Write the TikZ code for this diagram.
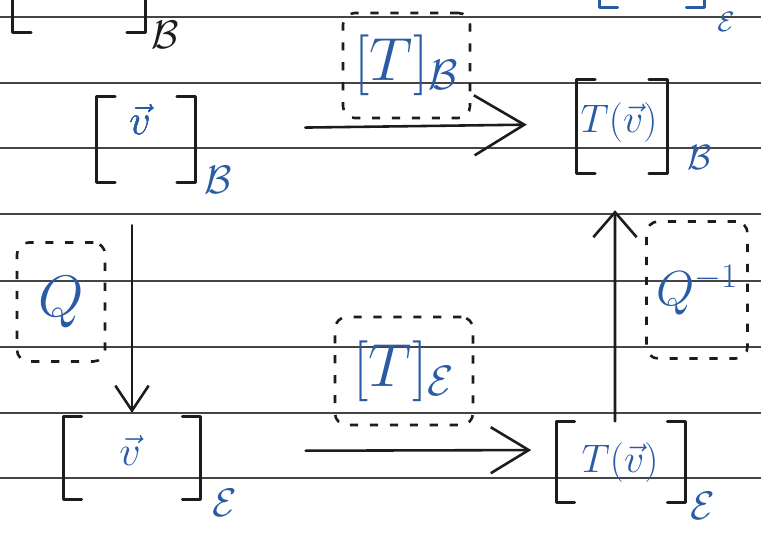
\RequirePackage{fix-cm}
\documentclass[tikz,border=0pt]{standalone}
\usetikzlibrary{arrows.meta,calc}
\definecolor{nbink}{HTML}{1C1C1C}
\definecolor{nbblue}{HTML}{2A5CA6}
\definecolor{nbrule}{HTML}{454545}
\tikzset{
  rule/.style={draw=nbrule, line width=1.4pt},
  matbox/.style n args={2}{minimum width=#1, minimum height=#2, inner sep=0pt},
  brk/.style={draw=nbink, line width=2.4pt, line join=round, line cap=round},
  ink/.style={text=nbblue, inner sep=0pt},
  sub/.style={inner sep=0pt, font=\fontsize{34}{40}\selectfont},
  lbox/.style n args={2}{draw=nbink, line width=2.2pt, dash pattern=on 7pt off 10pt,
    rounded corners=10pt, minimum width=#1, minimum height=#2, inner sep=0pt, text=nbblue},
  arr/.style={draw=nbink, line width=2.2pt, line cap=round},
}
% brackets drawn on the sides of a box node
\newcommand\bracketbox[2][nbink]{%
  \draw[brk, draw=#1] ([xshift=0.55cm]#2.north west) -- (#2.north west) -- (#2.south west) -- ([xshift=0.55cm]#2.south west);
  \draw[brk, draw=#1] ([xshift=-0.55cm]#2.north east) -- (#2.north east) -- (#2.south east) -- ([xshift=-0.55cm]#2.south east);}
\begin{document}
\begin{tikzpicture}[x=0.03cm, y=-0.03cm]
  \useasboundingbox (0,0) rectangle (761,540);
  \clip (0,0) rectangle (761,540);
  \fill[white] (0,0) rectangle (761,540);
  % ruled paper
  \foreach \y in {17,83,148,214,281,347,413,478}
    \draw[rule] (0,\y) -- (761,\y);

  % fragments cut by the top edge
  \node[matbox={3.96cm}{2.76cm}] (frTL) at (79,-14) {};
  \bracketbox{frTL}
  \node[sub, text=nbink] (frTLsub) at (165,35) {$\mathcal{B}$};
  \node[matbox={3.15cm}{2.61cm}] (frTR) at (652,-36) {};
  \bracketbox[nbblue]{frTR}
  \node[sub, text=nbblue, font=\fontsize{24}{28}\selectfont] (frTRsub) at (726,22) {$\mathcal{E}$};

  % coordinate vectors
  \node[matbox={2.94cm}{2.55cm}] (vB) at (146,139.5) {};
  \node[matbox={2.7cm}{2.79cm}] (TvB) at (622,126.5) {};
  \node[matbox={4.11cm}{2.49cm}] (vE) at (132,458) {};
  \node[matbox={3.87cm}{2.43cm}] (TvE) at (621,462) {};
  \foreach \nm in {vB,TvB,vE,TvE}
    \bracketbox{\nm}
  \node[ink, font=\fontsize{36}{40}\selectfont] (vBtxt) at (140,119) {$\vec{v}$};
  \node[ink, font=\fontsize{34}{40}\selectfont] (TvBtxt) at (619,123) {$T(\vec{v})$};
  \node[ink, font=\fontsize{36}{40}\selectfont] (vEtxt) at (130,450) {$\vec{v}$};
  \node[ink, font=\fontsize{34}{40}\selectfont] (TvEtxt) at (620,463) {$T(\vec{v})$};
  \node[sub, text=nbblue] (vBsub) at (218,180) {$\mathcal{B}$};
  \node[sub, text=nbblue, font=\fontsize{30}{36}\selectfont] (TvBsub) at (700,157) {$\mathcal{B}$};
  \node[sub, text=nbblue] (vEsub) at (225,503) {$\mathcal{E}$};
  \node[sub, text=nbblue] (TvEsub) at (703,506) {$\mathcal{E}$};

  % dashed labels
  \node[lbox={3.81cm}{3.15cm}, font=\fontsize{52}{60}\selectfont] (TB) at (406.5,65.5) {$[T]_{\mathcal{B}}$};
  \node[lbox={4.14cm}{3.24cm}, font=\fontsize{52}{60}\selectfont] (TE) at (404,371) {$[T]_{\mathcal{E}}$};
  \node[lbox={2.64cm}{3.57cm}, font=\fontsize{50}{60}\selectfont] (Q) at (61,302) {$Q$};
  \node[lbox={3.03cm}{4.11cm}, font=\fontsize{42}{50}\selectfont] (Qinv) at (697,290) {$Q^{-1}$};

  % arrows
  \draw[arr, -{Straight Barb[length=1.5cm, width=1.8cm]}, shorten <=3.3cm, shorten >=1.5cm]
    ([yshift=0.315cm]vB.east) -- ([yshift=0.075cm]TvB.west);
  \draw[arr, -{Straight Barb[length=1.14cm, width=1.38cm]}, shorten <=3.15cm, shorten >=0.75cm]
    ([yshift=0.21cm]vE.east) -- ([yshift=0.36cm]TvE.west);
  \draw[arr, -{Straight Barb[length=0.75cm, width=1.0cm]}, shorten <=1.29cm, shorten >=0.1cm]
    (vE.north |- vB.south) -- (vE.north);
  \draw[arr, -{Straight Barb[length=0.75cm, width=1.3cm]}, shorten >=1.11cm]
    ([xshift=-0.18cm]TvE.north) -- ([xshift=-0.21cm]TvB.south);
\end{tikzpicture}
\end{document}
